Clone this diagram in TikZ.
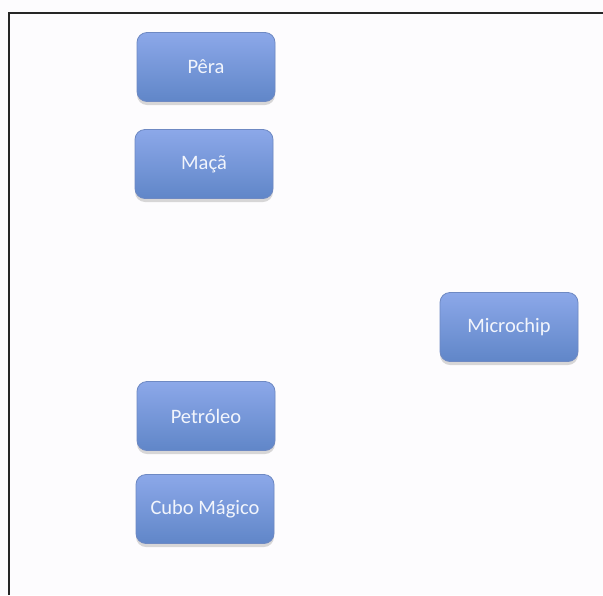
\documentclass[tikz,border=0pt]{standalone}
\usepackage{fontspec}
\setmainfont{Carlito}
\usetikzlibrary{shadows}
\definecolor{boxtop}{HTML}{8CA8E9}
\definecolor{boxbot}{HTML}{6086C8}
\definecolor{boxline}{HTML}{6E89C3}
\definecolor{boxtext}{HTML}{F2F5FC}
\definecolor{pagebg}{HTML}{FDFCFE}
\tikzset{
  itembox/.style={rectangle, rounded corners=10pt, minimum width=138pt, minimum height=69pt,
    draw=boxline, line width=0.8pt, top color=boxtop, bottom color=boxbot,
    drop shadow={opacity=0.3, shadow xshift=0pt, shadow yshift=-3.5pt},
    text=boxtext, font=\fontsize{20.5}{24}\selectfont, inner sep=0pt},
  frameline/.style={line width=2.8pt, black!85}
}
\begin{document}
\begin{tikzpicture}[x=1pt,y=-1pt]
\useasboundingbox (0,0) rectangle (603,595);
\fill[pagebg] (0,0) rectangle (603,595);
\coordinate (fbl) at (9,595);
\coordinate (ftl) at (9,13);
\coordinate (ftr) at (603,13);
\draw[frameline] (fbl) -- (ftl) -- (ftr);
\node[itembox] (pera) at (206,67) {Pêra};
\node[itembox] (maca) at (204,164) {Maçã};
\node[itembox] (petroleo) at (206,416) {Petróleo};
\node[itembox] (cubo) at (205,509) {Cubo Mágico};
\node[itembox] (micro) at (509,327) {Microchip};
\end{tikzpicture}
\end{document}
